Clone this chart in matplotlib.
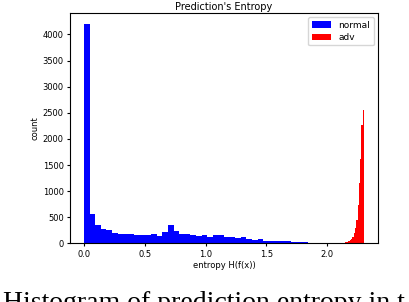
import numpy as np
import matplotlib
matplotlib.use('Agg')
import matplotlib.pyplot as plt

# histogram counts
# normal: 50 bins over [0, ln10], only the first 40 are filled
normal_counts = [4200, 564, 350, 276, 256, 205, 183, 180, 180, 165,
                 163, 163, 183, 141, 216, 348, 236, 179, 179, 160,
                 141, 160, 121, 160, 160, 121, 121, 102, 121, 83,
                 66, 83, 45, 45, 45, 45, 45, 25, 25, 25]
# adv: 20 finer bins near the maximum entropy
adv_counts = [5, 8, 10, 12, 15, 18, 22, 28, 38, 57,
              83, 127, 190, 300, 446, 740, 1147, 1606, 2262, 2549]
h_max = np.log(10)
adv_start = 2.09

normal_edges = np.linspace(0, h_max, 51)[:len(normal_counts) + 1]
adv_edges = np.linspace(adv_start, h_max, len(adv_counts) + 1)

fig = plt.figure(figsize=(4.1, 3.02), dpi=100)
ax = fig.add_axes([0.171, 0.194, 0.751, 0.763])

ax.hist(normal_edges[:-1], bins=normal_edges, weights=normal_counts,
        color='blue', label='normal')
ax.hist(adv_edges[:-1], bins=adv_edges, weights=adv_counts,
        color='red', label='adv')
ax.set_xlim(-0.115, 2.418)

ax.set_title("Prediction's Entropy", fontsize=7, pad=2)
ax.set_xlabel('entropy H(f(x))', fontsize=6, labelpad=2)
ax.set_ylabel('count', fontsize=6, labelpad=2)
ax.tick_params(labelsize=6, length=2.5, pad=2)
ax.legend(loc='upper right', fontsize=6.5, handlelength=2.2, borderpad=0.35,
          labelspacing=0.4)

# caption of the paper figure, cut off at the bottom edge
fig.text(0.008, -0.025, 'Histogram of prediction entropy in t', family='Liberation Serif',
         fontsize=20, va='baseline', ha='left')

fig.savefig('out.png', dpi=100)
